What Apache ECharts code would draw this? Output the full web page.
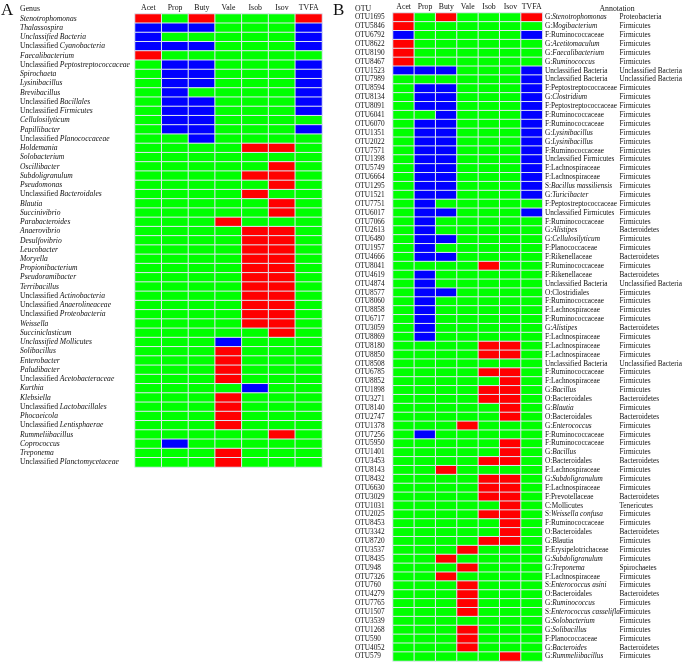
<!DOCTYPE html>
<html>
<head>
<meta charset="utf-8">
<script src="https://cdn.jsdelivr.net/npm/echarts@6/dist/echarts.min.js"></script>
<style>html,body{margin:0;padding:0;background:#fff;}#c{width:685px;height:662px;}</style>
</head>
<body>
<div id="c"></div>
<script>
// ---- data ----
const vfaCols = ['Acet','Prop','Buty','Vale','Isob','Isov','TVFA'];
// 1 = positive (red), 0 = none (green), -1 = negative (blue)
const genusA = [
 '*Stenotrophomonas*','*Thalassospira*','*Unclassified Bacteria*','Unclassified *Cyanobacteria*','*Faecalibacterium*',
 'Unclassified *Peptostreptococcaceae*','*Spirochaeta*','*Lysinibacillus*','*Brevibacillus*','Unclassified *Bacillales*',
 'Unclassified *Firmicutes*','*Cellulosilyticum*','*Papillibacter*','Unclassified *Planococcaceae*','*Holdemania*',
 '*Solobacterium*','*Oscillibacter*','*Subdoligranulum*','*Pseudomonas*','Unclassified *Bacteroidales*',
 '*Blautia*','*Succinivibrio*','*Parabacteroides*','*Anaerovibrio*','*Desulfovibrio*',
 '*Leucobacter*','*Moryella*','*Propionibacterium*','*Pseudoramibacter*','*Terribacillus*',
 'Unclassified *Actinobacteria*','Unclassified *Anaerolineaceae*','Unclassified *Proteobacteria*','*Weissella*','*Succiniclasticum*',
 '*Unclassified Mollicutes*','*Solibacillus*','*Enterobacter*','*Paludibacter*','Unclassified *Acetobacteraceae*',
 '*Kurthia*','*Klebsiella*','Unclassified *Lactobacillales*','*Phocaeicola*','Unclassified *Lentisphaerae*',
 '*Rummeliibacillus*','*Coprococcus*','*Treponema*','Unclassified *Planctomycetaceae*'
];
const valuesA = [
 [1,0,1,0,0,0,1],[-1,-1,-1,0,0,0,-1],[-1,0,0,0,0,0,-1],[-1,-1,-1,0,0,0,-1],[1,0,0,0,0,0,0],
 [0,-1,-1,0,0,0,-1],[0,-1,-1,0,0,0,-1],[0,-1,-1,0,0,0,-1],[0,-1,0,0,0,0,-1],[0,-1,-1,0,0,0,-1],
 [0,-1,-1,0,0,0,-1],[0,-1,-1,0,0,0,0],[0,-1,-1,0,0,0,-1],[0,0,-1,0,0,0,0],[0,0,0,0,1,1,0],
 [0,0,0,0,0,0,0],[0,0,0,0,0,1,0],[0,0,0,0,1,1,0],[0,0,0,0,0,1,0],[0,0,0,0,1,0,0],
 [0,0,0,0,0,1,0],[0,0,0,0,0,1,0],[0,0,0,1,0,0,0],[0,0,0,0,1,1,0],[0,0,0,0,1,1,0],
 [0,0,0,0,1,1,0],[0,0,0,0,1,1,0],[0,0,0,0,1,1,0],[0,0,0,0,1,1,0],[0,0,0,0,1,1,0],
 [0,0,0,0,1,1,0],[0,0,0,0,1,1,0],[0,0,0,0,1,1,0],[0,0,0,0,1,1,0],[0,0,0,0,0,1,0],
 [0,0,0,-1,0,0,0],[0,0,0,1,0,0,0],[0,0,0,1,0,0,0],[0,0,0,1,0,0,0],[0,0,0,1,0,0,0],
 [0,0,0,0,-1,0,0],[0,0,0,1,0,0,0],[0,0,0,1,0,0,0],[0,0,0,1,0,0,0],[0,0,0,1,0,0,0],
 [0,0,0,0,0,1,0],[0,-1,0,0,0,0,0],[0,0,0,1,0,0,0],[0,0,0,1,0,0,0]
];
const otuB = [
 'OTU1695','OTU5846','OTU6792','OTU8622','OTU8190','OTU8467','OTU1523','OTU7989','OTU8594','OTU8134',
 'OTU8091','OTU6041','OTU6070','OTU1351','OTU2022','OTU7571','OTU1398','OTU5749','OTU6664','OTU1295',
 'OTU1521','OTU7751','OTU6017','OTU7066','OTU2613','OTU6480','OTU1957','OTU4666','OTU8041','OTU4619',
 'OTU4874','OTU8577','OTU8060','OTU8858','OTU6717','OTU3059','OTU8869','OTU8180','OTU8850','OTU8508',
 'OTU6785','OTU8852','OTU1898','OTU3271','OTU8140','OTU2747','OTU1378','OTU7256','OTU5950','OTU1401',
 'OTU3453','OTU8143','OTU8432','OTU6630','OTU3029','OTU1031','OTU2025','OTU8453','OTU3342','OTU8720',
 'OTU3537','OTU8435','OTU948','OTU7326','OTU760','OTU4279','OTU7765','OTU1507','OTU3539','OTU1268',
 'OTU590','OTU4052','OTU579'
];
const annotB = [
 'G:*Stenotrophomonas*','G:*Mogibacterium*','F:Ruminococcaceae','G:*Acetitomaculum*','G:*Faecalibacterium*',
 'G:*Ruminococcus*','Unclassified Bacteria','Unclassified Bacteria','F:Peptostreptococcaceae','G:*Clostridium*',
 'F:Peptostreptococcaceae','F:Ruminococcaceae','F:Ruminococcaceae','G:*Lysinibacillus*','G:*Lysinibacillus*',
 'F:Ruminococcaceae','Unclassified Firmicutes','F:Lachnospiraceae','F:Lachnospiraceae','S:*Bacillus massiliensis*',
 'G:*Turicibacter*','F:Peptostreptococcaceae','Unclassified Firmicutes','F:Ruminococcaceae','G:*Alistipes*',
 'G:*Cellulosilyticum*','F:Planococcaceae','F:Rikenellaceae','F:Ruminococcaceae','F:Rikenellaceae',
 'Unclassified Bacteria','O:Clostridiales','F:Ruminococcaceae','F:Lachnospiraceae','F:Ruminococcaceae',
 'G:*Alistipes*','F:Lachnospiraceae','F:Lachnospiraceae','F:Lachnospiraceae','Unclassified Bacteria',
 'F:Ruminococcaceae','F:Lachnospiraceae','G:*Bacillus*','O:Bacteroidales','G:*Blautia*',
 'O:Bacteroidales','G:*Enterococcus*','F:Ruminococcaceae','F:Ruminococcaceae','G:*Bacillus*',
 'O:Bacteroidales','F:Lachnospiraceae','G:*Subdoligranulum*','F:Lachnospiraceae','F:Prevotellaceae',
 'C:Mollicutes','S:*Weissella confusa*','F:Ruminococcaceae','O:Bacteroidales','G:Blautia',
 'F:Erysipelotrichaceae','G:*Subdoligranulum*','G:*Treponema*','F:Lachnospiraceae','S:*Enterococcus asini*',
 'O:Bacteroidales','G:*Ruminococcus*','S:*Enterococcus casselifla*','G:*Solobacterium*','G:*Solibacillus*',
 'F:Planococcaceae','G:*Bacteroides*','G:*Rummeliibacillus*'
];
const phylumB = [
 'Proteobacteria','Firmicutes','Firmicutes','Firmicutes','Firmicutes','Firmicutes','Unclassified Bacteria','Unclassified Bacteria','Firmicutes','Firmicutes',
 'Firmicutes','Firmicutes','Firmicutes','Firmicutes','Firmicutes','Firmicutes','Firmicutes','Firmicutes','Firmicutes','Firmicutes',
 'Firmicutes','Firmicutes','Firmicutes','Firmicutes','Bacteroidetes','Firmicutes','Firmicutes','Bacteroidetes','Firmicutes','Bacteroidetes',
 'Unclassified Bacteria','Firmicutes','Firmicutes','Firmicutes','Firmicutes','Bacteroidetes','Firmicutes','Firmicutes','Firmicutes','Unclassified Bacteria',
 'Firmicutes','Firmicutes','Firmicutes','Bacteroidetes','Firmicutes','Bacteroidetes','Firmicutes','Firmicutes','Firmicutes','Firmicutes',
 'Bacteroidetes','Firmicutes','Firmicutes','Firmicutes','Bacteroidetes','Tenericutes','Firmicutes','Firmicutes','Bacteroidetes','Firmicutes',
 'Firmicutes','Firmicutes','Spirochaetes','Firmicutes','Firmicutes','Bacteroidetes','Firmicutes','Firmicutes','Firmicutes','Firmicutes',
 'Firmicutes','Bacteroidetes','Firmicutes'
];
const valuesB = [
 [1,0,1,0,0,0,1],[1,0,0,0,0,0,0],[-1,0,0,0,0,0,-1],[1,0,0,0,0,0,0],[1,0,0,0,0,0,0],
 [1,0,0,0,0,0,0],[-1,-1,-1,0,0,0,-1],[0,0,0,0,0,0,-1],[0,-1,-1,0,0,0,-1],[0,-1,-1,0,0,0,-1],
 [0,-1,-1,0,0,0,-1],[0,0,-1,0,0,0,-1],[0,-1,-1,0,0,0,-1],[0,-1,-1,0,0,0,-1],[0,-1,-1,0,0,0,-1],
 [0,-1,-1,0,0,0,-1],[0,-1,-1,0,0,0,-1],[0,-1,-1,0,0,0,-1],[0,-1,-1,0,0,0,-1],[0,-1,-1,0,0,0,-1],
 [0,-1,-1,0,0,0,-1],[0,-1,0,0,0,0,0],[0,-1,-1,0,0,0,-1],[0,-1,0,0,0,0,0],[0,-1,0,0,0,0,0],
 [0,-1,-1,0,0,0,0],[0,-1,0,0,0,0,0],[0,-1,-1,0,0,0,0],[0,0,0,0,1,0,0],[0,-1,0,0,0,0,0],
 [0,-1,0,0,0,0,0],[0,-1,-1,0,0,0,0],[0,-1,0,0,0,0,0],[0,-1,0,0,0,0,0],[0,-1,0,0,0,0,0],
 [0,-1,0,0,0,0,0],[0,-1,0,0,0,0,0],[0,0,0,0,1,1,0],[0,0,0,0,1,1,0],[0,0,0,0,0,0,0],
 [0,0,0,0,1,1,0],[0,0,0,0,0,1,0],[0,0,0,0,1,1,0],[0,0,0,0,1,1,0],[0,0,0,0,0,1,0],
 [0,0,0,0,0,1,0],[0,0,0,1,0,0,0],[0,-1,0,0,0,0,0],[0,0,0,0,0,1,0],[0,0,0,0,0,1,0],
 [0,0,0,0,1,1,0],[0,0,1,0,0,0,0],[0,0,0,0,1,1,0],[0,0,0,0,1,1,0],[0,0,0,0,1,1,0],
 [0,0,0,0,0,1,0],[0,0,0,0,1,1,0],[0,0,0,0,0,1,0],[0,0,0,0,0,1,0],[0,0,0,0,1,1,0],
 [0,0,0,1,0,0,0],[0,0,1,0,0,0,0],[0,0,0,1,0,0,0],[0,0,1,0,0,0,0],[0,0,0,1,0,0,0],
 [0,0,0,1,0,0,0],[0,0,0,1,0,0,0],[0,0,0,1,0,0,0],[0,0,0,0,0,0,0],[0,0,0,1,0,0,0],
 [0,0,0,1,0,0,0],[0,0,0,1,0,0,0],[0,0,0,0,0,1,0]
];

// ---- helpers ----
const FONT = '"Liberation Serif","Times New Roman",serif';
const plain = s => s.replace(/\*/g, '');
function rich(s) {
  return s.split('*').map((p, i) => p ? (i % 2 ? '{i|' + p + '}' : '{n|' + p + '}') : '').join('');
}
function richStyles(size) {
  return {
    n: { fontFamily: FONT, fontSize: size, color: '#111', fontStyle: 'normal' },
    i: { fontFamily: FONT, fontSize: size, color: '#111', fontStyle: 'italic' }
  };
}
function cells(vals) {
  const out = [];
  vals.forEach((row, y) => row.forEach((v, x) => out.push([x, y, v])));
  return out;
}
const catA = genusA.map(plain);
const mapA = {}; genusA.forEach((g, i) => { mapA[catA[i]] = g; });
const annMap = {}, phyMap = {};
otuB.forEach((o, i) => { annMap[o] = annotB[i]; phyMap[o] = phylumB[i]; });

const hidden = { axisLine: { show: false }, axisTick: { show: false }, splitLine: { show: false } };
const topX = (gi) => Object.assign({
  type: 'category', gridIndex: gi, position: 'top', data: vfaCols,
  axisLabel: { interval: 0, fontFamily: FONT, fontSize: 7.8, color: '#111', margin: 2 }
}, hidden);

const chart = echarts.init(document.getElementById('c'), null, { renderer: 'canvas' });
chart.setOption({
  animation: false,
  backgroundColor: '#fff',
  grid: [
    { left: 135, top: 14, width: 187, height: 453 },
    { left: 393, top: 13, width: 152.5, height: 648 }
  ],
  xAxis: [topX(0), topX(1)],
  yAxis: [
    Object.assign({
      type: 'category', gridIndex: 0, inverse: true, data: catA,
      axisLabel: { interval: 0, align: 'left', margin: 115, formatter: v => rich(mapA[v]), rich: richStyles(7.6) }
    }, hidden),
    Object.assign({
      type: 'category', gridIndex: 1, inverse: true, data: otuB,
      axisLabel: { interval: 0, align: 'left', margin: 38, fontFamily: FONT, fontSize: 7.3, color: '#111' }
    }, hidden),
    Object.assign({
      type: 'category', gridIndex: 1, inverse: true, position: 'right', data: otuB,
      axisLabel: { interval: 0, align: 'left', margin: 2.5, formatter: v => rich(annMap[v]), rich: richStyles(7.3) }
    }, hidden),
    Object.assign({
      type: 'category', gridIndex: 1, inverse: true, position: 'right', offset: 76, data: otuB,
      axisLabel: { interval: 0, align: 'left', margin: 1, fontFamily: FONT, fontSize: 7.3, color: '#111', formatter: v => phyMap[v] }
    }, hidden)
  ],
  visualMap: {
    type: 'piecewise', show: false, dimension: 2, seriesIndex: [0, 1],
    pieces: [
      { value: 1, color: '#ff0000' },
      { value: 0, color: '#00ff00' },
      { value: -1, color: '#0000ff' }
    ]
  },
  series: [
    {
      type: 'heatmap', xAxisIndex: 0, yAxisIndex: 0, data: cells(valuesA),
      itemStyle: { borderColor: '#dfe6f2', borderWidth: 1 }, emphasis: { disabled: true }
    },
    {
      type: 'heatmap', xAxisIndex: 1, yAxisIndex: 1, data: cells(valuesB),
      itemStyle: { borderColor: '#dfe6f2', borderWidth: 1 }, emphasis: { disabled: true }
    }
  ],
  graphic: [
    { type: 'text', left: 1, top: 2, style: { text: 'A', font: '17px ' + FONT, fill: '#111' } },
    { type: 'text', left: 333, top: 2, style: { text: 'B', font: '17px ' + FONT, fill: '#111' } },
    { type: 'text', left: 20, top: 5, style: { text: 'Genus', font: '7.8px ' + FONT, fill: '#111' } },
    { type: 'text', left: 355, top: 5, style: { text: 'OTU', font: '7.8px ' + FONT, fill: '#111' } },
    { type: 'text', x: 617, y: 5, style: { text: 'Annotation', font: '7.8px ' + FONT, fill: '#111', align: 'center' } }
  ]
});
</script>
</body>
</html>
